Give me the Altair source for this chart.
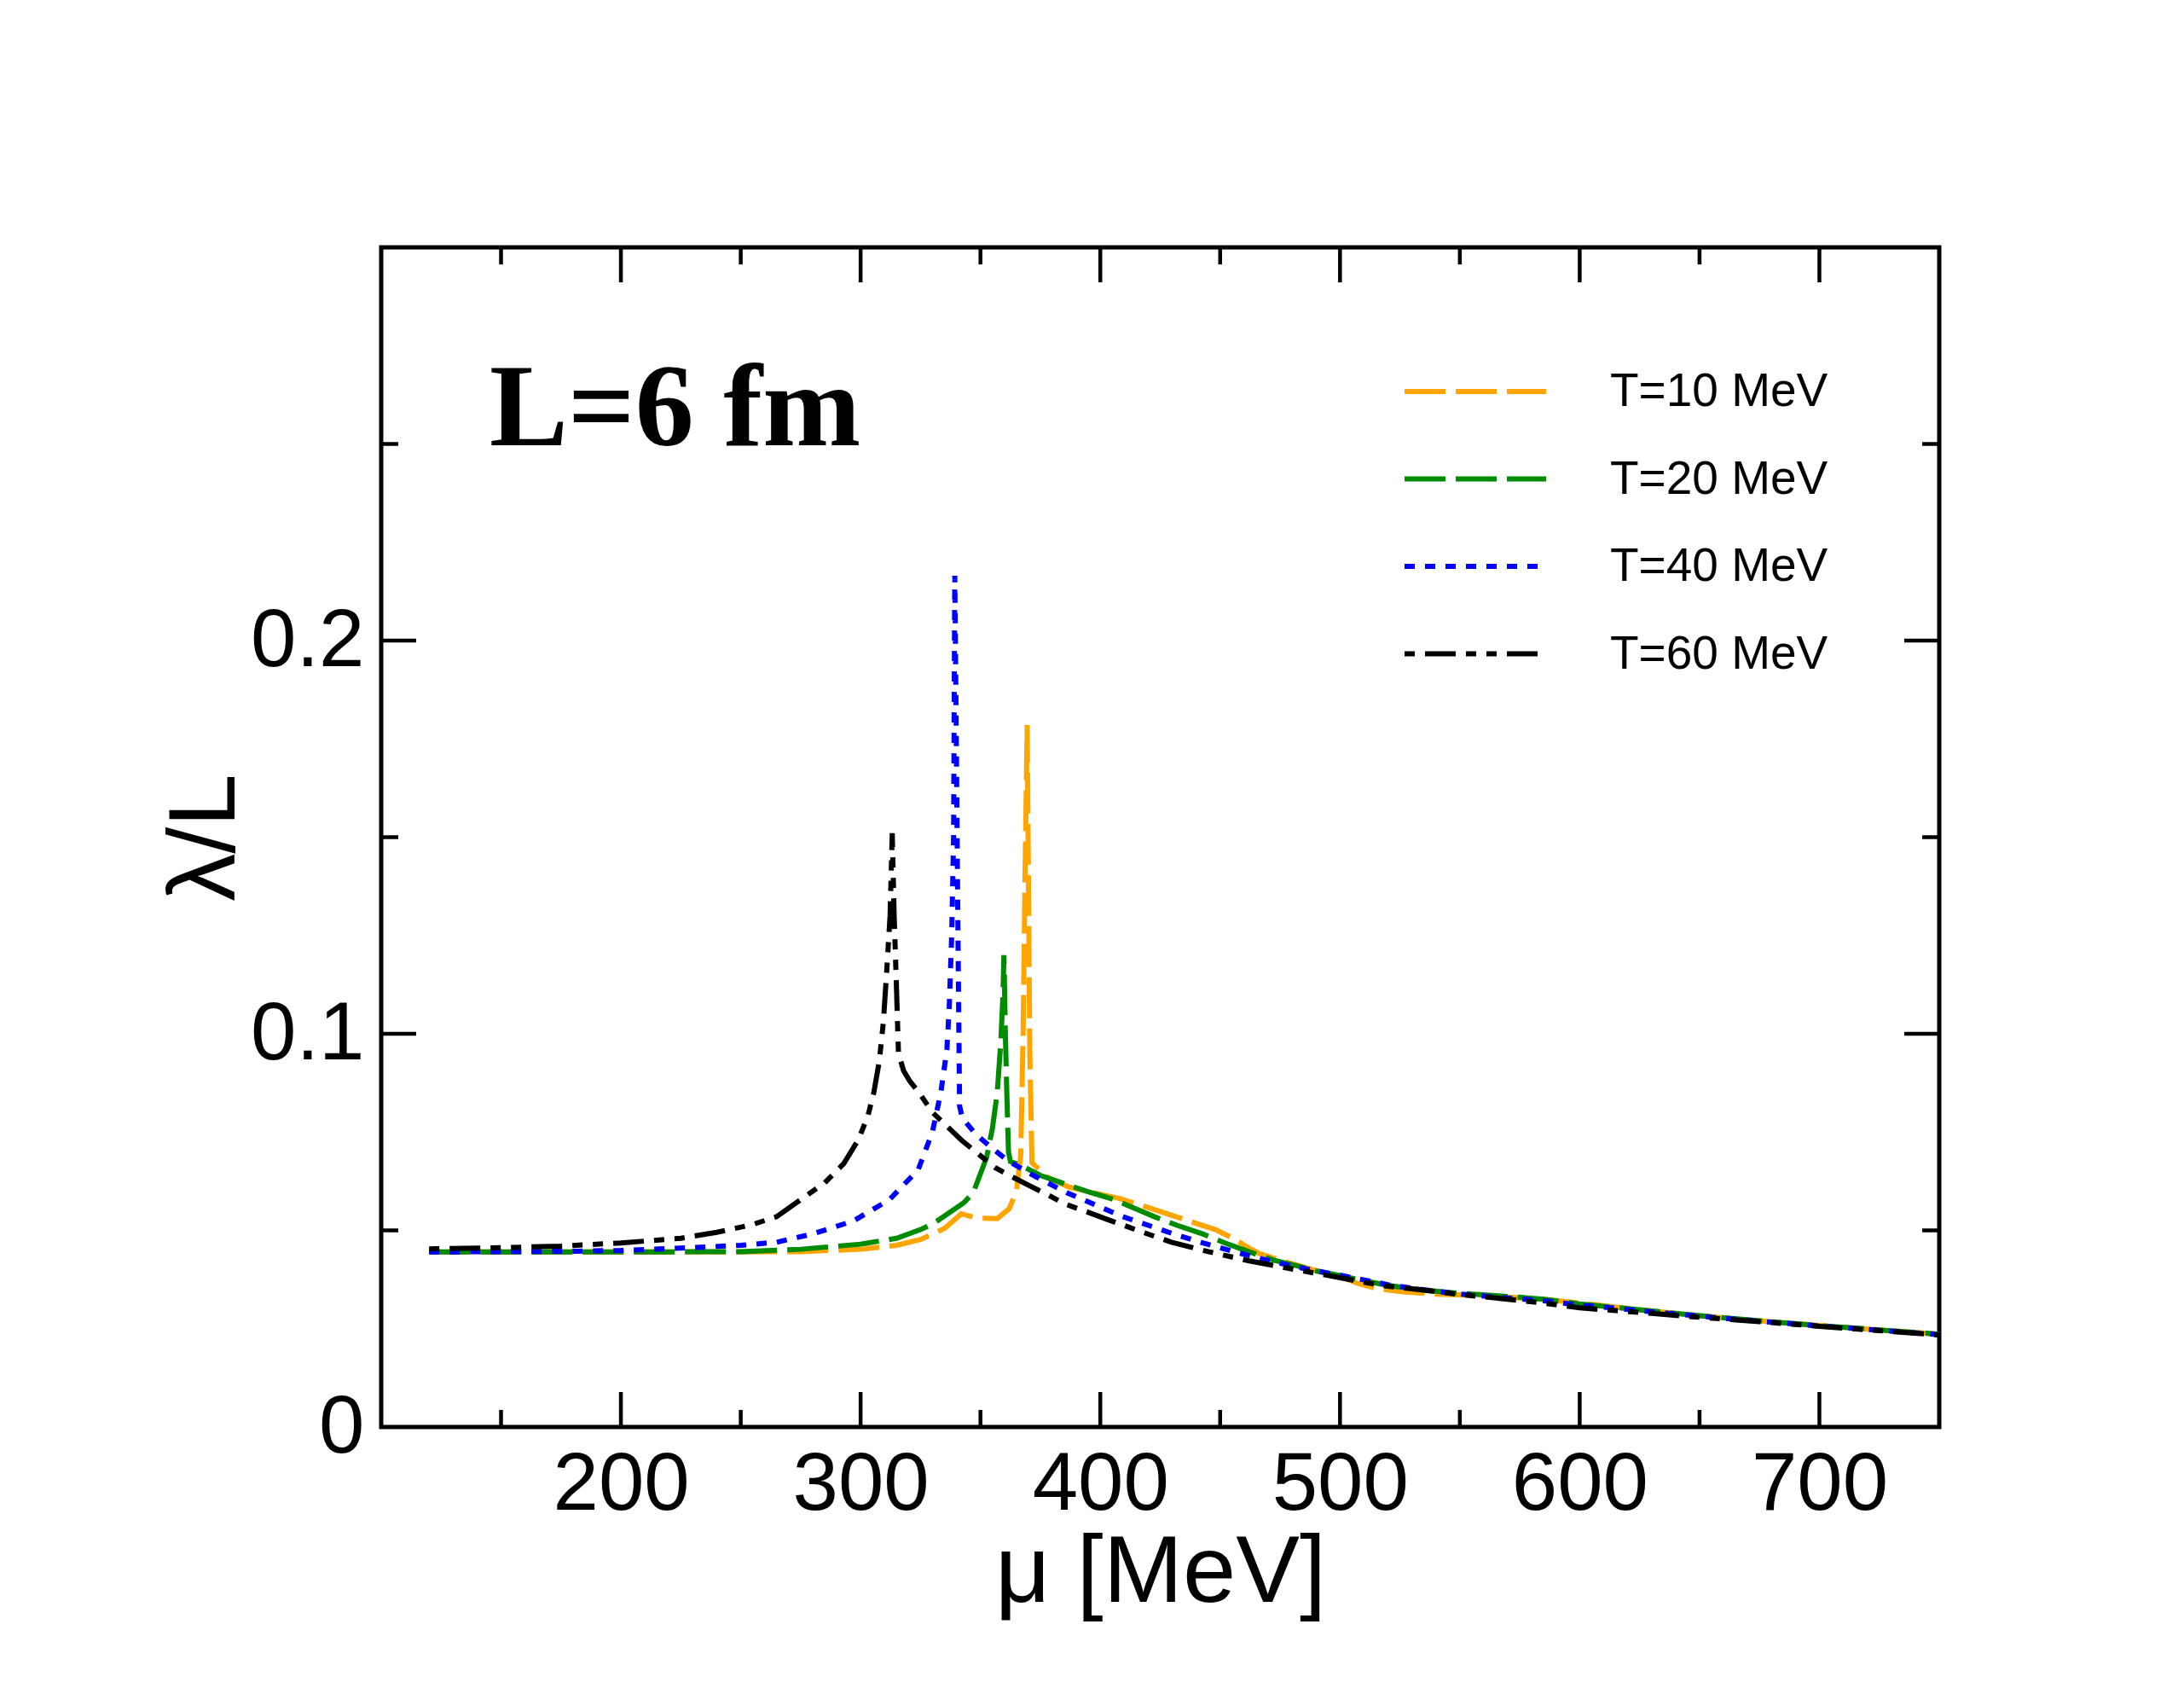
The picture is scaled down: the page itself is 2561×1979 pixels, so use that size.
import altair as alt
import pandas as pd

# ---------------- data ----------------
series_labels = ["T=10 MeV", "T=20 MeV", "T=40 MeV", "T=60 MeV"]
series_colors = ["#FFA500", "#008B00", "#0000FF", "#000000"]

mu_t10 = [120, 150, 200, 250, 275, 300, 315, 325, 335, 342, 349, 357, 362, 365,
          366.8, 367.8, 368.6, 369.5, 370.0, 370.6, 371.5, 378, 387, 400, 408, 418,
          428, 438, 448, 456, 462, 466, 472, 480, 490, 500, 507, 515, 527, 540, 555,
          570, 585, 600, 615, 630, 650, 675, 700, 725, 750]
lam_t10 = [0.0445, 0.0445, 0.0445, 0.0445, 0.0446, 0.0452, 0.0462, 0.0477, 0.0505,
           0.0542, 0.0531, 0.0530, 0.0555, 0.0600, 0.0690, 0.1000, 0.1400, 0.1785,
           0.1400, 0.0950, 0.0672, 0.0635, 0.0610, 0.0592, 0.0581, 0.0562, 0.0542,
           0.0522, 0.0502, 0.0478, 0.0455, 0.0442, 0.0430, 0.0415, 0.0398, 0.0383,
           0.0366, 0.0352, 0.0343, 0.0338, 0.0335, 0.0330, 0.0325, 0.0315, 0.0305,
           0.0295, 0.0283, 0.0270, 0.0258, 0.0247, 0.0236]

mu_t20 = [120, 150, 200, 250, 275, 300, 315, 325, 330, 343, 347, 352.6, 355, 357,
          358.5, 359.4, 359.8, 360.4, 361.0, 361.7, 362.5, 367, 375, 382, 394, 405.5,
          414, 422.5, 432, 442.7, 452, 462.9, 472, 480.7, 490, 500, 510, 520, 535,
          550, 570, 585, 600, 615, 630, 650, 675, 700, 725, 750]
lam_t20 = [0.0445, 0.0445, 0.0445, 0.0446, 0.0452, 0.0465, 0.0480, 0.0502, 0.0516,
           0.0570, 0.0596, 0.0686, 0.0760, 0.0850, 0.0980, 0.1100, 0.1200, 0.1000,
           0.0850, 0.0700, 0.0675, 0.0665, 0.0640, 0.0625, 0.0600, 0.0579, 0.0557,
           0.0535, 0.0513, 0.0491, 0.0468, 0.0444, 0.0425, 0.0412, 0.0397, 0.0385,
           0.0372, 0.0360, 0.0348, 0.0340, 0.0332, 0.0325, 0.0313, 0.0304, 0.0295,
           0.0283, 0.0270, 0.0258, 0.0247, 0.0236]

mu_t40 = [120, 150, 180, 200, 225, 250, 265, 280, 297, 312, 324, 330, 333.5, 336,
          337, 338, 338.8, 339.3, 340.0, 340.7, 341.3, 342.5, 348, 355, 362, 372, 386,
          396, 408, 420, 432, 444, 457, 469, 481, 490, 500, 510, 520, 535, 550, 570,
          585, 600, 615, 630, 650, 675, 700, 725, 750]
lam_t40 = [0.0445, 0.0446, 0.0447, 0.0449, 0.0455, 0.0462, 0.0470, 0.0491, 0.0524,
           0.0578, 0.0654, 0.0751, 0.0852, 0.0960, 0.1070, 0.1250, 0.1500, 0.2165,
           0.1700, 0.1200, 0.0816, 0.0785, 0.0745, 0.0708, 0.0675, 0.0640, 0.0596,
           0.0570, 0.0538, 0.0513, 0.0488, 0.0466, 0.0444, 0.0425, 0.0408, 0.0397,
           0.0386, 0.0374, 0.0362, 0.0349, 0.0338, 0.0328, 0.0321, 0.0310, 0.0302,
           0.0293, 0.0282, 0.0269, 0.0257, 0.0246, 0.0235]

mu_t60 = [120, 150, 175, 200, 225, 240, 255, 265, 276.6, 285, 293, 299, 303, 305.5,
          307.8, 309.5, 310.8, 312.3, 313.2, 314.0, 314.8, 315.3, 315.8, 318, 320.5, 325,
          330, 336, 342, 349, 356, 363, 370.3, 378.6, 385, 394, 402.4, 416, 429.7, 445,
          461.7, 480, 497.3, 510, 520, 532.7, 550, 570, 585, 600, 615, 630, 650, 675,
          700, 725, 750]
lam_t60 = [0.0453, 0.0456, 0.0460, 0.0468, 0.0480, 0.0495, 0.0515, 0.0535, 0.0585,
           0.0621, 0.0670, 0.0730, 0.0790, 0.0850, 0.0930, 0.1030, 0.1150, 0.1300,
           0.1510, 0.1300, 0.1150, 0.1050, 0.0950, 0.0905, 0.0880, 0.0845, 0.0800,
           0.0765, 0.0730, 0.0695, 0.0660, 0.0637, 0.0614, 0.0589, 0.0568, 0.0548,
           0.0529, 0.0499, 0.0470, 0.0446, 0.0423, 0.0402, 0.0383, 0.0368, 0.0358,
           0.0350, 0.0337, 0.0325, 0.0315, 0.0303, 0.0296, 0.0289, 0.0279, 0.0268,
           0.0256, 0.0245, 0.0234]

x_label_values = [200, 300, 400, 500, 600, 700]
y_label_values = [0, 0.1, 0.2]
x_major_ticks = [200, 300, 400, 500, 600, 700]
x_minor_ticks = [150, 250, 350, 450, 550, 650]
y_major_ticks = [0.1, 0.2]
y_minor_ticks = [0.05, 0.15, 0.25]

annotation_text = "L=6 fm"
x_title = "μ [MeV]"
y_title = "λ/L"

# ---------------- build table ----------------
rows = []
for lab, mus, lams in zip(series_labels,
                          [mu_t10, mu_t20, mu_t40, mu_t60],
                          [lam_t10, lam_t20, lam_t40, lam_t60]):
    for i, (m, l) in enumerate(zip(mus, lams)):
        rows.append({"series": lab, "mu": m, "lam": l, "idx": i})
df = pd.DataFrame(rows)

W, H = 1827, 1383
MAJ, MIN = 41, 20
TICK_W = 4.5

xscale = alt.Scale(domain=[100, 750], nice=False, zero=False)
yscale = alt.Scale(domain=[0, 0.3], nice=False, zero=False)

x_axis = alt.Axis(values=x_label_values, title=x_title, ticks=False,
                  domain=False, grid=False, labelFontSize=96,
                  titleFontSize=112, labelPadding=20, titlePadding=1,
                  labelOverlap=False, labelFlush=False, format="d")
y_axis = alt.Axis(values=y_label_values, title=y_title, ticks=False,
                  domain=False, grid=False, labelFontSize=96,
                  titleFontSize=112, labelPadding=20, titlePadding=-5,
                  labelOverlap=False, labelFlush=False,
                  labelExpr="datum.value == 0 ? '0' : format(datum.value, '.1f')")

dash_range = [[48, 12], [48, 12], [12, 12], [12, 12, 36, 12, 12, 12]]

legend_kw = dict(
    orient="none", legendX=1197, legendY=139, title=None,
    symbolType="stroke", symbolSize=166 * 166, symbolStrokeWidth=6,
    labelFont="Liberation Sans", labelFontSize=55, labelColor="black",
    labelOffset=72, labelLimit=1000, clipHeight=60, rowPadding=42.5, padding=0,
)

lines = alt.Chart(df).mark_line(strokeWidth=6, strokeCap="butt").encode(
    x=alt.X("mu:Q", scale=xscale, axis=x_axis, title=x_title),
    y=alt.Y("lam:Q", scale=yscale, axis=y_axis, title=y_title),
    color=alt.Color("series:N", scale=alt.Scale(domain=series_labels, range=series_colors),
                    legend=alt.Legend(**legend_kw)),
    strokeDash=alt.StrokeDash("series:N", scale=alt.Scale(domain=series_labels, range=dash_range),
                              legend=alt.Legend(**legend_kw)),
    order="idx:Q",
)


def xticks(vals, length, top):
    d = pd.DataFrame({"v": vals})
    if top:
        y0, y1 = 0, length
    else:
        y0, y1 = H, H - length
    return alt.Chart(d).mark_rule(color="black", strokeWidth=TICK_W).encode(
        x=alt.X("v:Q", scale=xscale, axis=x_axis, title=x_title),
        y=alt.value(y0), y2=alt.value(y1))


def yticks(vals, length, right):
    d = pd.DataFrame({"v": vals})
    if right:
        x0, x1 = W, W - length
    else:
        x0, x1 = 0, length
    return alt.Chart(d).mark_rule(color="black", strokeWidth=TICK_W).encode(
        y=alt.Y("v:Q", scale=yscale, axis=y_axis, title=y_title),
        x=alt.value(x0), x2=alt.value(x1))


ticks = [
    xticks(x_major_ticks, MAJ, False), xticks(x_minor_ticks, MIN, False),
    xticks(x_major_ticks, MAJ, True), xticks(x_minor_ticks, MIN, True),
    yticks(y_major_ticks, MAJ, False), yticks(y_minor_ticks, MIN, False),
    yticks(y_major_ticks, MAJ, True), yticks(y_minor_ticks, MIN, True),
]

label = alt.Chart(pd.DataFrame({"t": [annotation_text]})).mark_text(
    font="Liberation Serif", fontWeight="bold", fontSize=138,
    align="left", baseline="alphabetic", color="black"
).encode(x=alt.value(127), y=alt.value(232), text="t:N")

chart = alt.layer(lines, *ticks, label).properties(
    width=W, height=H,
    autosize=alt.AutoSizeParams(type="none"),
    padding={"left": 439, "top": 282, "right": 270, "bottom": 290},
    background="white",
).configure_view(
    stroke="black", strokeWidth=5
).configure_axis(
    labelFont="Liberation Sans", titleFont="Liberation Sans",
    labelColor="black", titleColor="black", titleFontWeight="normal",
)

chart.save("out.html", embed_options={"renderer": "svg", "actions": False})
